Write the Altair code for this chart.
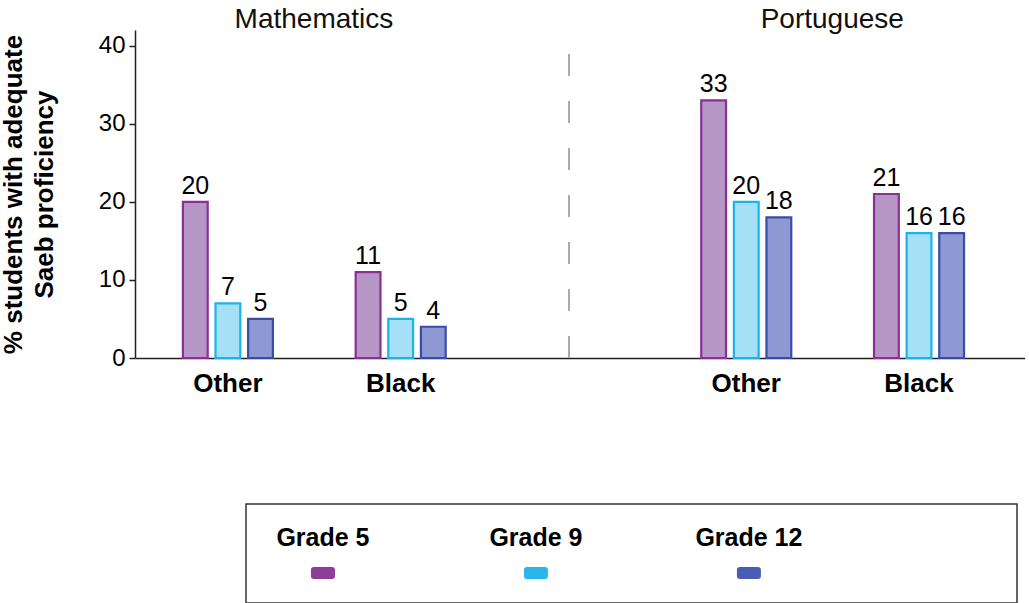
import altair as alt
import pandas as pd

# ---- data ----
subjects = ["Mathematics", "Portuguese"]
groups = ["Other", "Black"]
grades = ["Grade 5", "Grade 9", "Grade 12"]
math_other = [20, 7, 5]
math_black = [11, 5, 4]
port_other = [33, 20, 18]
port_black = [21, 16, 16]
y_ticks = [0, 10, 20, 30, 40]
y_title = ["% students with adequate", "Saeb proficiency"]

fill_colors = ["#b596c5", "#a6e0f6", "#8e98d2"]
stroke_colors = ["#8a2f95", "#1cb3ea", "#3b4ca6"]
swatch_colors = ["#8e3e99", "#2ab6ea", "#4a5cb4"]

FONT = "Liberation Sans"

slots = ["Mathematics|Other", "Mathematics|Black", "sep",
         "Portuguese|Other", "Portuguese|Black"]

rows = []
for subj, grp, vals in [("Mathematics", "Other", math_other),
                        ("Mathematics", "Black", math_black),
                        ("Portuguese", "Other", port_other),
                        ("Portuguese", "Black", port_black)]:
    for g, v in zip(grades, vals):
        rows.append({"slot": f"{subj}|{grp}", "grade": g, "value": v})
df = pd.DataFrame(rows)

sep_df = pd.DataFrame({"slot": ["sep"], "lo": [0], "hi": [42]})
title_df = pd.DataFrame({"slot": ["Mathematics|Other", "Portuguese|Other"],
                         "label": subjects})

x_scale = alt.Scale(domain=slots, paddingInner=0.479, paddingOuter=0.315, align=0.44)
x_axis = alt.Axis(title=None, ticks=False, labelAngle=0,
                  labelExpr="datum.label == 'sep' ? '' : split(datum.label, '|')[1]",
                  labelFont=FONT, labelFontWeight="bold", labelFontSize=26,
                  labelColor="black", labelPadding=12,
                  domainColor="#222", domainWidth=1.5)
y_scale = alt.Scale(domain=[0, 42], nice=False, zero=True)
y_axis = alt.Axis(values=y_ticks, title=y_title, titleFont=FONT,
                  titleFontSize=26, titleFontWeight="bold", titleColor="black",
                  titleLineHeight=31, titlePadding=41,
                  labelFont=FONT, labelFontSize=24, labelColor="black",
                  labelPadding=4, tickSize=6, tickWidth=1.5, tickColor="#222",
                  domainColor="#222", domainWidth=1.5, grid=False)

xoff = alt.XOffset("grade:N", scale=alt.Scale(domain=grades, paddingInner=0.24,
                                              paddingOuter=0))

base = alt.Chart(df)
bars = base.mark_bar(strokeWidth=2.2).encode(
    x=alt.X("slot:N", scale=x_scale, axis=x_axis),
    xOffset=xoff,
    y=alt.Y("value:Q", scale=y_scale, axis=y_axis),
    fill=alt.Fill("grade:N", scale=alt.Scale(domain=grades, range=fill_colors), legend=None),
    stroke=alt.Stroke("grade:N", scale=alt.Scale(domain=grades, range=stroke_colors), legend=None),
)
labels = base.mark_text(baseline="bottom", dy=-3, font=FONT, fontSize=25,
                        color="black").encode(
    x=alt.X("slot:N"),
    xOffset=xoff,
    y=alt.Y("value:Q"),
    text=alt.Text("value:Q"),
)
sep = alt.Chart(sep_df).mark_rule(strokeDash=[22, 25], color="#aaaaaa",
                                  strokeWidth=2).encode(
    x=alt.X("slot:N", bandPosition=0.45),
    y=alt.Y("lo:Q"),
    y2="hi:Q",
)
titles = alt.Chart(title_df).mark_text(font=FONT, fontSize=28, baseline="middle",
                                       color="#111", dx=41).encode(
    x=alt.X("slot:N", bandPosition=1),
    y=alt.value(-10),
    text="label:N",
)

main = alt.layer(bars, labels, sep, titles).properties(width=890, height=328)

# ---- custom legend box ----
leg_df = pd.DataFrame({"grade": grades, "swatch": swatch_colors})
leg_x = alt.X("grade:N", scale=alt.Scale(type="point", domain=grades,
                                         padding=0.81, align=0.223), axis=None)
leg_text = alt.Chart(leg_df).mark_text(font=FONT, fontWeight="bold", fontSize=25,
                                       baseline="middle", color="black").encode(
    x=leg_x, y=alt.value(34), text="grade:N")
rounded = ("M-0.75,-0.5L0.75,-0.5Q1,-0.5 1,-0.25L1,0.25Q1,0.5 0.75,0.5"
           "L-0.75,0.5Q-1,0.5 -1,0.25L-1,-0.25Q-1,-0.5 -0.75,-0.5Z")
leg_sw = alt.Chart(leg_df).mark_point(filled=True, opacity=1, shape=rounded,
                                      size=576, dx=3).encode(
    x=leg_x, y=alt.value(69), fill=alt.Fill("swatch:N", scale=None))
legend = alt.layer(leg_text, leg_sw).properties(
    width=771, height=99,
    view=alt.ViewBackground(stroke="#333333", strokeWidth=1.5))

spacer = alt.Chart(pd.DataFrame({"a": [0]})).mark_point(opacity=0).encode(
    x=alt.value(0), y=alt.value(0)).properties(width=110, height=99)

row = alt.hconcat(spacer, legend, spacing=0)

chart = alt.vconcat(main, row, spacing=105).properties(
    padding={"left": 0, "top": 6, "right": 0, "bottom": 0},
    background="white",
).configure_view(stroke=None)

chart.save("out.html", embed_options={"renderer": "svg", "actions": False})
